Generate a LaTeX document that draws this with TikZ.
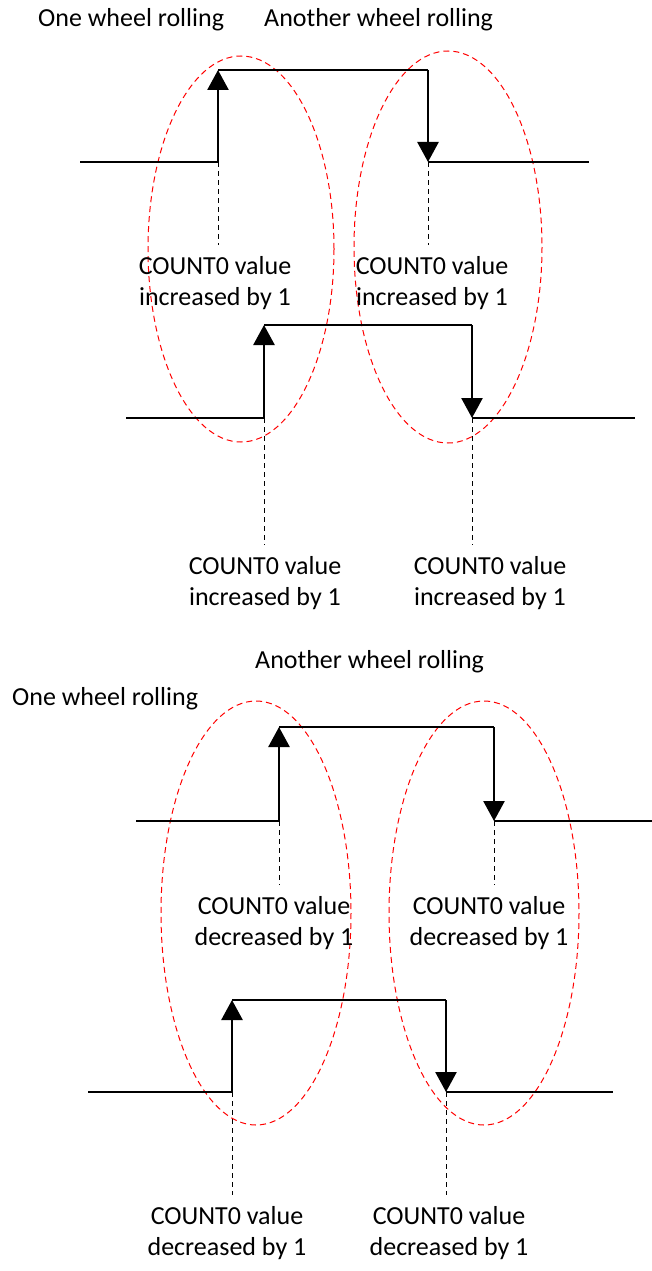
\documentclass[tikz,border=0pt]{standalone}
\usepackage{fontspec}
\setmainfont{Carlito}
\usetikzlibrary{arrows.meta}

\tikzset{
  wave/.style={line width=2.6pt},
  edgeup/.style={wave,-{Triangle[length=20pt,width=21pt]}},
  guide/.style={line width=1pt,dash pattern=on 5pt off 4pt},
  zone/.style={red,line width=1pt,dash pattern=on 6pt off 4pt},
  title/.style={anchor=base west,inner sep=0pt,font=\fontsize{26}{31}\selectfont},
  lbl/.style={anchor=north,align=center,inner sep=0pt,outer ysep=11pt,
    font=\fontsize{26}{31}\selectfont},
}

\begin{document}
\begin{tikzpicture}[x=1pt,y=-1pt]
  \useasboundingbox (0,0) rectangle (652,1271);

  % upper half: counting up
  \draw[zone] (241,249) ellipse (93 and 193);
  \draw[zone] (448,247) ellipse (94 and 196);
  \node[title] (oneA) at (38,27) {One wheel rolling};
  \node[title] (anotherA) at (264,27) {Another wheel rolling};

  \coordinate (s1) at (80,162);   \coordinate (r1) at (218,162);
  \coordinate (r1t) at (218,70);  \coordinate (f1t) at (428,70);
  \coordinate (f1) at (428,162);  \coordinate (e1) at (589,162);
  \draw[wave] (s1) -- (r1);
  \draw[edgeup] (r1) -- (r1t);
  \draw[wave] (r1t) -- (f1t);
  \draw[edgeup] (f1t) -- (f1);
  \draw[wave] (f1) -- (e1);
  \node[lbl] (inc1) at (215,245) {COUNT0 value\\increased by 1};
  \node[lbl] (inc2) at (432,245) {COUNT0 value\\increased by 1};
  \draw[guide] (r1) -- (r1 |- inc1.north);
  \draw[guide] (f1) -- (f1 |- inc2.north);

  \coordinate (s2) at (126,418);  \coordinate (r2) at (264,418);
  \coordinate (r2t) at (264,325); \coordinate (f2t) at (472,325);
  \coordinate (f2) at (472,418);  \coordinate (e2) at (635,418);
  \draw[wave] (s2) -- (r2);
  \draw[edgeup] (r2) -- (r2t);
  \draw[wave] (r2t) -- (f2t);
  \draw[edgeup] (f2t) -- (f2);
  \draw[wave] (f2) -- (e2);
  \node[lbl] (inc3) at (265,545) {COUNT0 value\\increased by 1};
  \node[lbl] (inc4) at (490,545) {COUNT0 value\\increased by 1};
  \draw[guide] (r2) -- (r2 |- inc3.north);
  \draw[guide] (f2) -- (f2 |- inc4.north);

  % lower half: counting down
  \draw[zone] (256,913) ellipse (95 and 212);
  \draw[zone] (484,913) ellipse (95 and 212);
  \node[title] (anotherB) at (255,668) {Another wheel rolling};
  \node[title] (oneB) at (12,705) {One wheel rolling};

  \coordinate (s3) at (136,821);  \coordinate (r3) at (279,821);
  \coordinate (r3t) at (279,727); \coordinate (f3t) at (494,727);
  \coordinate (f3) at (494,821);  \coordinate (e3) at (652,821);
  \draw[wave] (s3) -- (r3);
  \draw[edgeup] (r3) -- (r3t);
  \draw[wave] (r3t) -- (f3t);
  \draw[edgeup] (f3t) -- (f3);
  \draw[wave] (f3) -- (e3);
  \node[lbl] (dec1) at (274,885) {COUNT0 value\\decreased by 1};
  \node[lbl] (dec2) at (489,885) {COUNT0 value\\decreased by 1};
  \draw[guide] (r3) -- (r3 |- dec1.north);
  \draw[guide] (f3) -- (f3 |- dec2.north);

  \coordinate (s4) at (88,1092);   \coordinate (r4) at (232,1092);
  \coordinate (r4t) at (232,1000); \coordinate (f4t) at (446,1000);
  \coordinate (f4) at (446,1092);  \coordinate (e4) at (613,1092);
  \draw[wave] (s4) -- (r4);
  \draw[edgeup] (r4) -- (r4t);
  \draw[wave] (r4t) -- (f4t);
  \draw[edgeup] (f4t) -- (f4);
  \draw[wave] (f4) -- (e4);
  \node[lbl] (dec3) at (227,1195) {COUNT0 value\\decreased by 1};
  \node[lbl] (dec4) at (449,1195) {COUNT0 value\\decreased by 1};
  \draw[guide] (r4) -- (r4 |- dec3.north);
  \draw[guide] (f4) -- (f4 |- dec4.north);
\end{tikzpicture}
\end{document}
